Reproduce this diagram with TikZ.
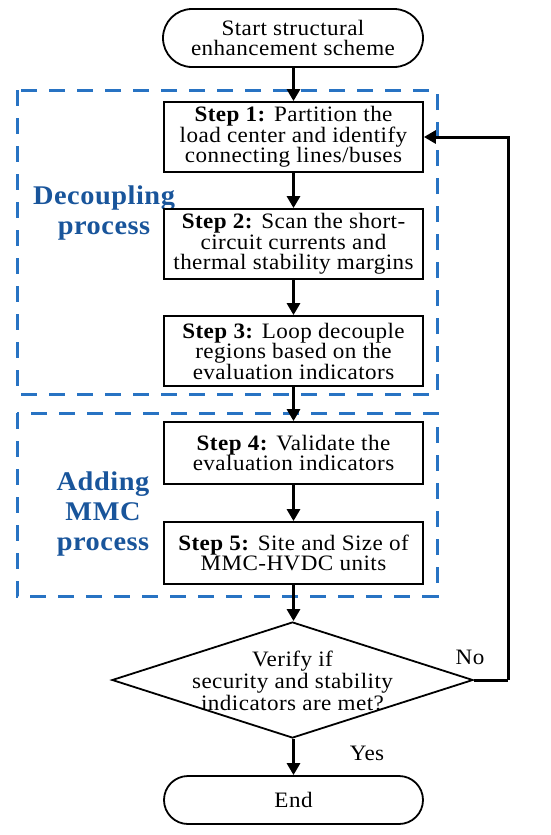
\documentclass[tikz,border=0pt]{standalone}
\usepackage{fontspec}
\setmainfont[FakeStretch=1.05,LetterSpace=2]{Liberation Serif}
\usetikzlibrary{arrows.meta,shapes.geometric}
\definecolor{dashblue}{RGB}{40,115,195}
\definecolor{textblue}{RGB}{25,85,155}
\begin{document}
\begin{tikzpicture}[x=1pt,y=-1pt,
  txt/.style={font=\fontsize{22}{20.5}\selectfont, align=center},
  stepbox/.style={draw, line width=1.8pt, minimum width=259pt, inner sep=0pt, txt},
  term/.style={draw, line width=1.8pt, rounded corners=#1, inner sep=0pt, txt},
  arr/.style={line width=3pt, -{Triangle[width=13pt,length=12pt]}},
  grp/.style={draw=dashblue, line width=3pt, dash pattern=on 16pt off 12pt},
  grplabel/.style={text=textblue, font=\fontsize{27}{30}\bfseries\selectfont, align=center}]
\useasboundingbox (0,0) rectangle (550,835);
% groups
\draw[grp] (17,90) rectangle (437,394);
\draw[grp] (17,413) rectangle (437,596);
\node[grplabel] (g1) at (104,213) {Decoupling\\process};
\node[grplabel] (g2) at (103,514) {Adding\\MMC\\process};
% nodes
\node[term=29pt, minimum width=260pt, minimum height=58pt] (start) at (293,38) {Start structural\\enhancement scheme};
\node[stepbox, minimum height=70pt] (s1) at (293.5,137) {\textbf{Step 1:} Partition the\\load center and identify\\connecting lines/buses};
\node[stepbox, minimum height=70pt] (s2) at (293.5,244) {\textbf{Step 2:} Scan the short-\\circuit currents and\\thermal stability margins};
\node[stepbox, minimum height=70pt] (s3) at (293.5,351) {\textbf{Step 3:} Loop decouple\\regions based on the\\evaluation indicators};
\node[stepbox, minimum height=62pt] (s4) at (293.5,453) {\textbf{Step 4:} Validate the\\evaluation indicators};
\node[stepbox, minimum height=62pt] (s5) at (293.5,553) {\textbf{Step 5:} Site and Size of\\MMC-HVDC units};
\node[draw, diamond, line width=1.8pt, minimum width=361pt, minimum height=116pt, inner sep=0pt] (dec) at (292.5,680) {};
\node[txt, font=\fontsize{22}{22}\selectfont] (dectext) at (292.5,681) {Verify if\\security and stability\\indicators are met?};
\node[term=24pt, minimum width=259pt, minimum height=48pt] (end) at (293.5,800) {End};
\coordinate (fb) at (508,680);
% connectors
\draw[arr] (start.south -| s1.north) -- (s1.north);
\draw[arr] (s1) -- (s2);
\draw[arr] (s2) -- (s3);
\draw[arr] (s3) -- (s4);
\draw[arr] (s4) -- (s5);
\draw[arr] (s5.south) -- (s5.south |- dec.north);
\draw[arr] (dec.south -| end.north) -- (end.north);
\draw[line width=3pt] (dec.east) -- (fb);
\draw[arr] (fb) |- (s1.east);
\node[txt] (no) at (470,657) {No};
\node[txt] (yes) at (367,753) {Yes};
\end{tikzpicture}
\end{document}
